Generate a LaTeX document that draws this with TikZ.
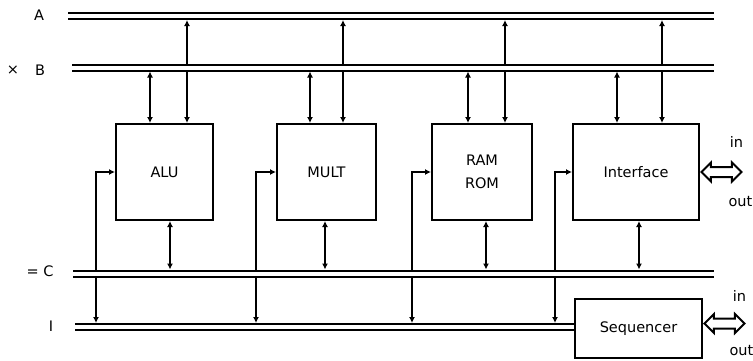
\documentclass[tikz,border=0pt]{standalone}
\usepackage{fontspec}
\setmainfont{DejaVu Sans}
\usetikzlibrary{positioning,shapes,arrows.meta}

\begin{document}
\begin{tikzpicture}[x=1pt, y=-1pt, line width=2pt,
        >={Latex[length=6pt,width=6pt]},
        every node/.style={font=\fontsize{14.5}{16}\selectfont},
        bus/.style={double, double distance=4pt},
        unit/.style={draw, minimum height=96pt, inner sep=2pt, align=center},
        port/.style={draw, fill=white, double arrow, double arrow head extend=4.5pt,
            minimum height=40pt, inner xsep=0pt, inner ysep=4pt}]
        \useasboundingbox (0,0) rectangle (753,360);

        % Buses
        \coordinate (A0) at (68,16);  \coordinate (A1) at (714,16);
        \coordinate (B0) at (72,67.5); \coordinate (B1) at (714,67.5);
        \coordinate (C0) at (73,273.5); \coordinate (C1) at (714,273.5);
        \coordinate (D0) at (75,327);
        \coordinate (At) at (0,20); \coordinate (Bt) at (0,63.5); \coordinate (Bb) at (0,71.5);
        \coordinate (Ct) at (0,269.5); \coordinate (Cb) at (0,277.5); \coordinate (Dt) at (0,323);

        % Units
        \node[unit, minimum width=97pt] (alu) at (164.5,172) {ALU};
        \node[unit, minimum width=99pt] (mult) at (326.5,172) {MULT};
        \node[unit, minimum width=100pt] (mem) at (482,172) {RAM\\[7pt]ROM};
        \node[unit, minimum width=126pt] (intf) at (636,172) {Interface};
        \node[draw, minimum width=127pt, minimum height=59pt] (seq) at (638.5,328.5) {Sequencer};

        \draw[bus] (A0) -- (A1);
        \draw[bus] (B0) -- (B1);
        \draw[bus] (C0) -- (C1);
        \draw[bus] (D0) -- (D0 -| seq.west);

        % Bus names
        \node (labA) at (39,15) {A};
        \node (labX) at (13,70) {×};
        \node (labB) at (40,70) {B};
        \node (labC) at (40,271) {= C};
        \node (labI) at (51,326) {I};

        % Columns
        \coordinate (aluL) at (150,0); \coordinate (aluR) at (187,0); \coordinate (aluD) at (170,0); \coordinate (aluF) at (96,0);
        \coordinate (multL) at (310,0); \coordinate (multR) at (343,0); \coordinate (multD) at (325,0); \coordinate (multF) at (256,0);
        \coordinate (memL) at (468,0); \coordinate (memR) at (505,0); \coordinate (memD) at (486,0); \coordinate (memF) at (412,0);
        \coordinate (intfL) at (617,0); \coordinate (intfR) at (662,0); \coordinate (intfD) at (639,0); \coordinate (intfF) at (555,0);

        % ALU
        \draw[->] (aluR |- Bt) -- (aluR |- At);
        \draw[<->] (aluL |- Bb) -- (aluL |- alu.north);
        \draw[->] (aluR |- Bb) -- (aluR |- alu.north);
        \draw[<->] (aluD |- alu.south) -- (aluD |- Ct);
        \draw[->] (aluF |- Ct) |- (alu.west);
        \draw[->] (aluF |- Cb) -- (aluF |- Dt);

        % MULT
        \draw[->] (multR |- Bt) -- (multR |- At);
        \draw[<->] (multL |- Bb) -- (multL |- mult.north);
        \draw[->] (multR |- Bb) -- (multR |- mult.north);
        \draw[<->] (multD |- mult.south) -- (multD |- Ct);
        \draw[->] (multF |- Ct) |- (mult.west);
        \draw[->] (multF |- Cb) -- (multF |- Dt);

        % RAM / ROM
        \draw[->] (memR |- Bt) -- (memR |- At);
        \draw[<->] (memL |- Bb) -- (memL |- mem.north);
        \draw[->] (memR |- Bb) -- (memR |- mem.north);
        \draw[<->] (memD |- mem.south) -- (memD |- Ct);
        \draw[->] (memF |- Ct) |- (mem.west);
        \draw[->] (memF |- Cb) -- (memF |- Dt);

        % Interface
        \draw[->] (intfR |- Bt) -- (intfR |- At);
        \draw[<->] (intfL |- Bb) -- (intfL |- intf.north);
        \draw[->] (intfR |- Bb) -- (intfR |- intf.north);
        \draw[<->] (intfD |- intf.south) -- (intfD |- Ct);
        \draw[->] (intfF |- Ct) |- (intf.west);
        \draw[->] (intfF |- Cb) -- (intfF |- Dt);

        % In / out
        \node[port, right=0pt of intf] (ioA) {};
        \node[port, right=0pt of seq, yshift=5pt] (ioB) {};
        \node (inA) at ([xshift=15pt,yshift=30pt]ioA.center) {in};
        \node (outA) at ([xshift=19pt,yshift=-30pt]ioA.center) {out};
        \node (inB) at ([xshift=15pt,yshift=28pt]ioB.center) {in};
        \node (outB) at ([xshift=17pt,yshift=-27pt]ioB.center) {out};
    \end{tikzpicture}
\end{document}
